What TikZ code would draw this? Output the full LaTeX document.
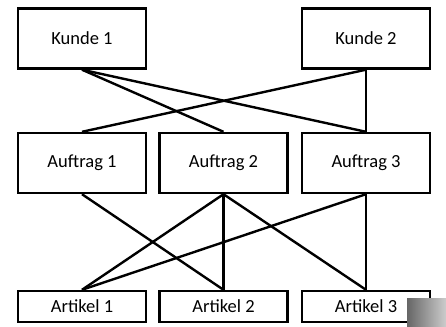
\documentclass[tikz,border=0pt]{standalone}
\usepackage{fontspec}
\setmainfont{Carlito}
\begin{document}
\begin{tikzpicture}[x=1pt,y=-1pt,
  box/.style={draw,line width=2.4pt,minimum width=128pt,inner sep=0pt,font=\fontsize{18.5}{20}\selectfont},
  tall/.style={box,minimum height=60pt},
  short/.style={box,minimum height=31pt},
  link/.style={line width=2.4pt}]
\useasboundingbox (0,0) rectangle (446,326);
\node[tall] (k1) at (82,38.5) {Kunde 1};
\node[tall] (k2) at (366,38.5) {Kunde 2};
\node[tall] (a1) at (82,163) {Auftrag 1};
\node[tall] (a2) at (223.5,163) {Auftrag 2};
\node[tall] (a3) at (366,163) {Auftrag 3};
\node[short] (r1) at (82,306.5) {Artikel 1};
\node[short] (r2) at (223.5,306.5) {Artikel 2};
\node[short] (r3) at (366,306.5) {Artikel 3};
\draw[link] (k1.south) -- (a2.north);
\draw[link] (k1.south) -- (a3.north);
\draw[link] (k2.south) -- (a1.north);
\draw[link] (k2.south) -- (a3.north);
\draw[link] (a1.south) -- (r2.north);
\draw[link] (a2.south) -- (r1.north);
\draw[link] (a2.south) -- (r2.north);
\draw[link] (a2.south) -- (r3.north);
\draw[link] (a3.south) -- (r1.north);
\draw[link] (a3.south) -- (r3.north);
\shade[left color=gray!80!black, right color=gray!40] (407,298) rectangle (446,326);
\end{tikzpicture}
\end{document}
